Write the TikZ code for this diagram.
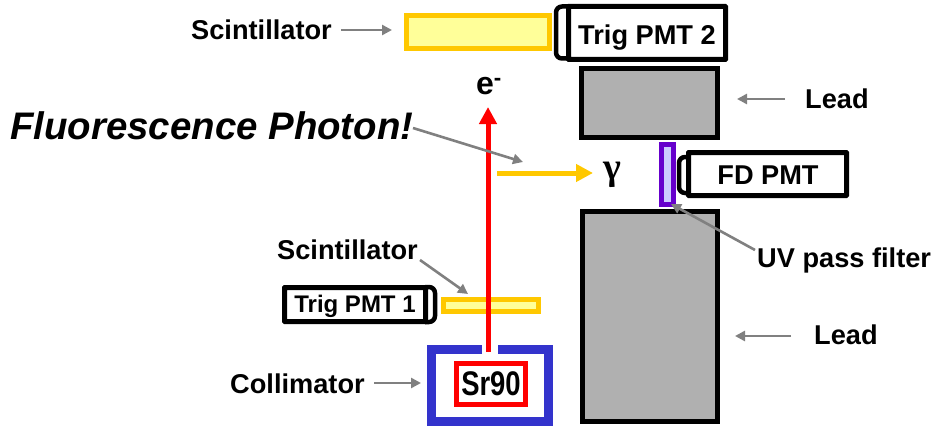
\documentclass[tikz,border=0pt]{standalone}
\usepackage{fontspec}
\setmainfont{Liberation Sans}
\newfontfamily\gammafont{Liberation Serif}
\usetikzlibrary{arrows.meta}
\definecolor{scintY}{HTML}{FFC800}
\definecolor{scintF}{HTML}{FFFF99}
\definecolor{leadF}{HTML}{B0B0B0}
\definecolor{filterB}{HTML}{6600CC}
\definecolor{filterF}{HTML}{CCCCFF}
\definecolor{collB}{HTML}{3333CC}
\definecolor{arrowG}{HTML}{808080}
\tikzset{
  lbl/.style={font=\bfseries\fontsize{27.2}{27}\selectfont, inner sep=0pt, text=black},
  scint/.style={draw=scintY, fill=scintF, line width=5pt},
  pmt/.style={draw=black, fill=white, line width=5pt, rounded corners=0.5pt},
  pmtcap/.style={draw=black, fill=white, line width=4.5pt, rounded corners=6pt},
  leadblock/.style={draw=black, fill=leadF, line width=5pt},
  pointer/.style={draw=arrowG, line width=2.6pt, -{Triangle[length=10pt,width=10pt]}},
  beam/.style={line width=5pt, -{Triangle[length=17pt,width=17pt]}}
}
\begin{document}
\begin{tikzpicture}[x=1pt,y=-1pt]
\useasboundingbox (0,0) rectangle (935,428);

% top scintillator and PMT 2
\path[scint] (406.5,15.5) rectangle (549.5,48.5);
\draw[pmtcap] (568,6.5) -- (556,6.5) -- (556,58.5) -- (568,58.5);
\draw[pmt] (568.5,6.5) rectangle (725.5,59.5);
\node[lbl] (pmt2) at (647,37.5) {Trig PMT 2};

% top lead
\path[leadblock] (581.5,68.5) rectangle (717.5,137.5);

% FD PMT and filter
\path[draw=filterB, fill=filterF, line width=5pt] (661.5,144.5) rectangle (673.5,204.5);
\draw[pmtcap] (688,157) -- (679,157) -- (679,193) -- (688,193);
\draw[pmt] (688.5,152.5) rectangle (846.5,195.5);
\node[lbl] (fd) at (768,175) {FD PMT};

% lower lead
\path[leadblock] (582.5,211.5) rectangle (717.5,421.5);

% Trig PMT 1 and small scintillator
\draw[pmtcap] (425,287) -- (435,287) -- (435,322) -- (425,322);
\draw[pmt] (284.5,287.5) rectangle (425.5,321.5);
\node[lbl,font=\bfseries\fontsize{24}{24}\selectfont] (pmt1) at (355,306.5) {Trig PMT 1};
\path[scint] (443.5,299.5) rectangle (538.5,311.5);

% Collimator
\draw[collB, line width=9pt, line cap=butt, line join=miter]
  (482,349.5) -- (431.5,349.5) -- (431.5,421.5) -- (548.5,421.5) -- (548.5,349.5) -- (498,349.5);

% Source
\node[draw=red, fill=white, line width=5pt, minimum width=69pt, minimum height=41pt, inner sep=0pt,
      font=\bfseries\fontsize{28}{28}\selectfont] (sr) at (491,384) {\scalebox{0.98}[1.22]{Sr90}};

% Beams
\coordinate (eStart) at (488,352);
\coordinate (eEnd) at (488,107);
\draw[beam, draw=red, fill=red] (eStart) -- (eEnd);
\coordinate (gStart) at (497,173);
\coordinate (gEnd) at (593,173);
\draw[beam, draw=scintY, fill=scintY] (gStart) -- (gEnd);
\node[lbl,font=\bfseries\fontsize{32}{32}\selectfont] (el) at (489,86) {e\textsuperscript{-}};
\node[inner sep=0pt, font=\gammafont\bfseries\fontsize{38}{38}\selectfont] (gamma) at (612,175) {γ};

% Labels
\node[lbl, anchor=west] (s1) at (191,30) {Scintillator};
\node[lbl, anchor=west] (s2) at (277,250) {Scintillator};
\node[lbl, anchor=west] (coll) at (230,384) {Collimator};
\node[lbl, anchor=west] (lead1) at (805,99) {Lead};
\node[lbl, anchor=west] (lead2) at (814,335) {Lead};
\node[lbl, anchor=west] (uv) at (757,260) {UV pass filter};
\node[anchor=west, inner sep=0pt, font=\bfseries\itshape\fontsize{38.4}{38}\selectfont] (fl) at (10,126) {Fluorescence Photon!};

% Pointers
\coordinate (a1s) at (341,30); \coordinate (a1e) at (392,30);
\draw[pointer] (a1s) -- (a1e);
\coordinate (a2s) at (785,99); \coordinate (a2e) at (737,99);
\draw[pointer] (a2s) -- (a2e);
\coordinate (a3s) at (791,336); \coordinate (a3e) at (735,336);
\draw[pointer] (a3s) -- (a3e);
\coordinate (a4s) at (374,383); \coordinate (a4e) at (421,383);
\draw[pointer] (a4s) -- (a4e);
\coordinate (a5s) at (420,260); \coordinate (a5e) at (468,294);
\draw[pointer] (a5s) -- (a5e);
\coordinate (a6s) at (413,128); \coordinate (a6e) at (523,162);
\draw[pointer] (a6s) -- (a6e);
\coordinate (a7s) at (755,250); \coordinate (a7e) at (671,204);
\draw[pointer] (a7s) -- (a7e);
\end{tikzpicture}
\end{document}
